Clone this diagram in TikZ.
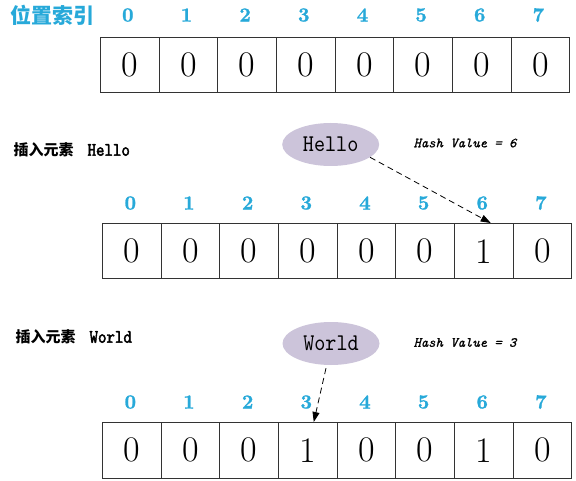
\documentclass[tikz,border=0pt]{standalone}
\usepackage{fontspec}
\usetikzlibrary{arrows.meta,shapes.geometric}
\newfontfamily\cjk{Noto Sans CJK SC}
\newfontfamily\monob{lmmono10-regular.otf}[FakeBold=2.2,FakeStretch=0.85]
\newfontfamily\monon{lmmono10-regular.otf}[FakeStretch=0.88]
\newfontfamily\monoit{lmmono10-italic.otf}[FakeBold=0.8]
\newfontfamily\idxfont{lmroman10-bold.otf}[FakeBold=1.2]
\definecolor{idxblue}{HTML}{27A9D9}
\definecolor{lav}{HTML}{CCC4DA}
\definecolor{edge}{HTML}{333333}
\begin{document}
\begin{tikzpicture}[x=1pt,y=-1pt,
  cell/.style={draw=edge, line width=1pt, minimum width=58.65pt, minimum height=55.5pt,
    inner sep=0pt, anchor=north west, font=\fontsize{36}{36}\selectfont},
  idx/.style={text=idxblue, font=\idxfont\fontsize{20}{20}\selectfont},
  bubble/.style={ellipse, fill=lav, minimum width=97pt, minimum height=43pt, inner sep=0pt,
    font=\monon\fontsize{24}{24}\selectfont},
  hashv/.style={anchor=west, font=\monoit\fontsize{14}{14}\selectfont},
  steplabel/.style={anchor=west, font=\fontsize{15}{15}\selectfont},
  link/.style={dash pattern=on 6pt off 4pt, line width=0.8pt, -{Triangle[length=10pt,width=7pt]}}
]
\useasboundingbox (0,0) rectangle (576,481);

% title
\node[anchor=west, text=idxblue, font=\cjk\bfseries\fontsize{21}{21}\selectfont] (title) at (7,15) {位置索引};

% row 1
\foreach \v [count=\i from 0] in {0,0,0,0,0,0,0,0} {
  \node[cell] (a\i) at ({100+58.65*\i},37) {\v};
  \node[idx] (ia\i) at ({100+58.65*(\i+0.5)-1.5},15) {\i};
}

% step: Hello
\node[steplabel] (s1) at (10,150) {{\cjk\bfseries 插入元素}\hspace{14pt}{\monob\fontsize{19}{19}\selectfont Hello}};
\node[bubble] (hello) at (330.7,144.5) {Hello};
\node[hashv] (h1) at (410,143) {Hash Value = 6};
\foreach \v [count=\i from 0] in {0,0,0,0,0,0,1,0} {
  \node[cell] (b\i) at ({102+58.65*\i},223) {\v};
  \node[idx] (ib\i) at ({102+58.65*(\i+0.5)-1},203) {\i};
}
\draw[link] (hello.-18) -- ([xshift=7pt]b6.north);

% step: World
\node[steplabel] (s2) at (12,337) {{\cjk\bfseries 插入元素}\hspace{14pt}{\monob\fontsize{19}{19}\selectfont World}};
\node[bubble] (world) at (331,343.5) {World};
\node[hashv] (h2) at (410,342.5) {Hash Value = 3};
\foreach \v [count=\i from 0] in {0,0,0,1,0,0,1,0} {
  \node[cell] (c\i) at ({102+58.65*\i},422) {\v};
  \node[idx] (ic\i) at ({102+58.65*(\i+0.5)-1},402) {\i};
}
\draw[link] ([xshift=-5pt,yshift=-3pt]world.south) -- ([xshift=6pt]c3.north);
\end{tikzpicture}
\end{document}
